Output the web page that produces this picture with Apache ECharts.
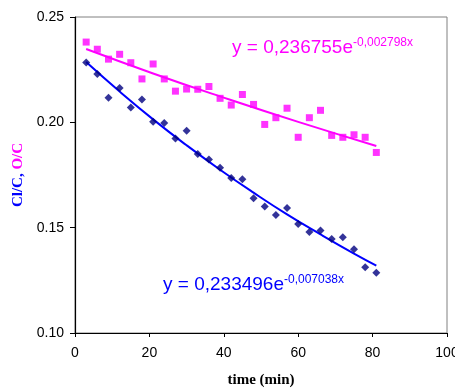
<!DOCTYPE html>
<html>
<head>
<meta charset="utf-8">
<script src="https://cdn.jsdelivr.net/npm/echarts@6/dist/echarts.min.js"></script>
<style>
  html, body, #main {
    margin: 0;
    padding: 0;
    width: 100%;
    height: 100%;
    overflow: hidden;
    background: #fff;
  }
</style>
</head>
<body>
<div id="main"></div>
<script>
// measured points (time in min)
const timeMin = [3, 6, 9, 12, 15, 18, 21, 24, 27, 30, 33, 36, 39, 42, 45, 48, 51, 54, 57, 60, 63, 66, 69, 72, 75, 78, 81];
const clRatio = [0.2284, 0.2230, 0.2117, 0.2163, 0.2070, 0.2108, 0.2003, 0.1997, 0.1923, 0.1960, 0.1850, 0.1823, 0.1784, 0.1736,
  0.1730, 0.1640, 0.1601, 0.1560, 0.1593, 0.1517, 0.1479, 0.1486, 0.1446, 0.1455, 0.1398, 0.1312, 0.1286];
const oRatio = [0.2381, 0.2347, 0.2300, 0.2323, 0.2283, 0.2206, 0.2277, 0.2206, 0.2148, 0.2158, 0.2157, 0.2170, 0.2114, 0.2082,
  0.2132, 0.2085, 0.1990, 0.2022, 0.2067, 0.1929, 0.2022, 0.2057, 0.1938, 0.1929, 0.1941, 0.1929, 0.1857];

// trend lines
const clFitT = [3, 12, 21, 30, 39, 48, 57, 66, 75, 81];
const clFit = [0.2286, 0.2146, 0.2014, 0.1891, 0.1775, 0.1666, 0.1563, 0.1468, 0.1377, 0.1320];
const oFitT = [3, 21, 39, 60, 81];
const oFit = [0.2348, 0.2232, 0.2123, 0.2002, 0.1888];

const xTicks = { min: 0, max: 100, step: 20 };
const yTicks = { min: 0.10, max: 0.25, step: 0.05 };

const clEquation = ["y = 0,233496e", "-0,007038x"];
const oEquation = ["y = 0,236755e", "-0,002798x"];

const zip = (a, b) => a.map((v, i) => [v, b[i]]);

let myChart = echarts.init(document.getElementById("main"));

// rich text styles for the trend equations (zrender style: fill)
const eqRich = (color) => ({
  m: { fontFamily: "Arial, Liberation Sans", fontSize: 19, fill: color, lineHeight: 22, verticalAlign: "middle" },
  s: { fontFamily: "Arial, Liberation Sans", fontSize: 12, fill: color, lineHeight: 12, verticalAlign: "top" },
});

myChart.setOption({
  backgroundColor: "#fff",
  animation: false,
  grid: {
    left: 75,
    right: 8,
    top: 17,
    bottom: 57,
    outerBoundsMode: "none",
    show: true,
    borderColor: "#808080",
    borderWidth: 1,
  },
  xAxis: {
    type: "value",
    min: xTicks.min,
    max: xTicks.max,
    interval: xTicks.step,
    name: "time (min)",
    nameLocation: "middle",
    nameGap: 40,
    nameTextStyle: { fontFamily: "Liberation Serif, Times New Roman", fontWeight: "bold", fontSize: 15, color: "#000" },
    axisLine: { lineStyle: { color: "#000", width: 1.2 } },
    axisTick: { length: 4, lineStyle: { color: "#000" } },
    axisLabel: { fontFamily: "Arial, Liberation Sans", fontSize: 14, color: "#000", margin: 13 },
    splitLine: { show: false },
  },
  yAxis: {
    type: "value",
    min: yTicks.min,
    max: yTicks.max,
    interval: yTicks.step,
    name: "{a|Cl/C,} {b|O/C}",
    nameLocation: "middle",
    nameGap: 45,
    nameTextStyle: {
      fontFamily: "Liberation Serif, Times New Roman",
      fontWeight: "bold",
      fontSize: 15,
      rich: {
        a: { color: "#0000ff", fontFamily: "Liberation Serif, Times New Roman", fontWeight: "bold", fontSize: 15 },
        b: { color: "#ff00ff", fontFamily: "Liberation Serif, Times New Roman", fontWeight: "bold", fontSize: 15 },
      },
    },
    axisLine: { show: true, lineStyle: { color: "#000", width: 1.2 } },
    axisTick: { show: true, length: 5, lineStyle: { color: "#000" } },
    axisLabel: {
      fontFamily: "Arial, Liberation Sans",
      fontSize: 14,
      color: "#000",
      margin: 11,
      formatter: (v) => v.toFixed(2),
    },
    splitLine: { show: false },
  },
  series: [
    {
      name: "O/C",
      type: "scatter",
      symbol: "rect",
      symbolSize: 7,
      itemStyle: { color: "#ff00ff" },
      data: zip(timeMin, oRatio),
      z: 3,
    },
    {
      name: "Cl/C",
      type: "scatter",
      symbol: "diamond",
      symbolSize: 8,
      itemStyle: { color: "#000080" },
      data: zip(timeMin, clRatio),
      z: 3,
    },
    {
      name: "O/C fit",
      type: "line",
      smooth: true,
      showSymbol: false,
      lineStyle: { color: "#ff00ff", width: 2 },
      data: zip(oFitT, oFit),
      z: 2,
    },
    {
      name: "Cl/C fit",
      type: "line",
      smooth: true,
      showSymbol: false,
      lineStyle: { color: "#0000ff", width: 2 },
      data: zip(clFitT, clFit),
      z: 2,
    },
  ],
  graphic: [
    {
      type: "text",
      x: 232,
      y: 48,
      style: {
        text: "{m|" + oEquation[0] + "}{s|" + oEquation[1] + "}",
        rich: eqRich("#ff00ff"),
        fill: "#ff00ff",
        verticalAlign: "middle",
      },
    },
    {
      type: "text",
      x: 163,
      y: 285,
      style: {
        text: "{m|" + clEquation[0] + "}{s|" + clEquation[1] + "}",
        rich: eqRich("#0000ff"),
        fill: "#0000ff",
        verticalAlign: "middle",
      },
    },
  ],
});

window.onresize = myChart.resize;
</script>
</body>
</html>
